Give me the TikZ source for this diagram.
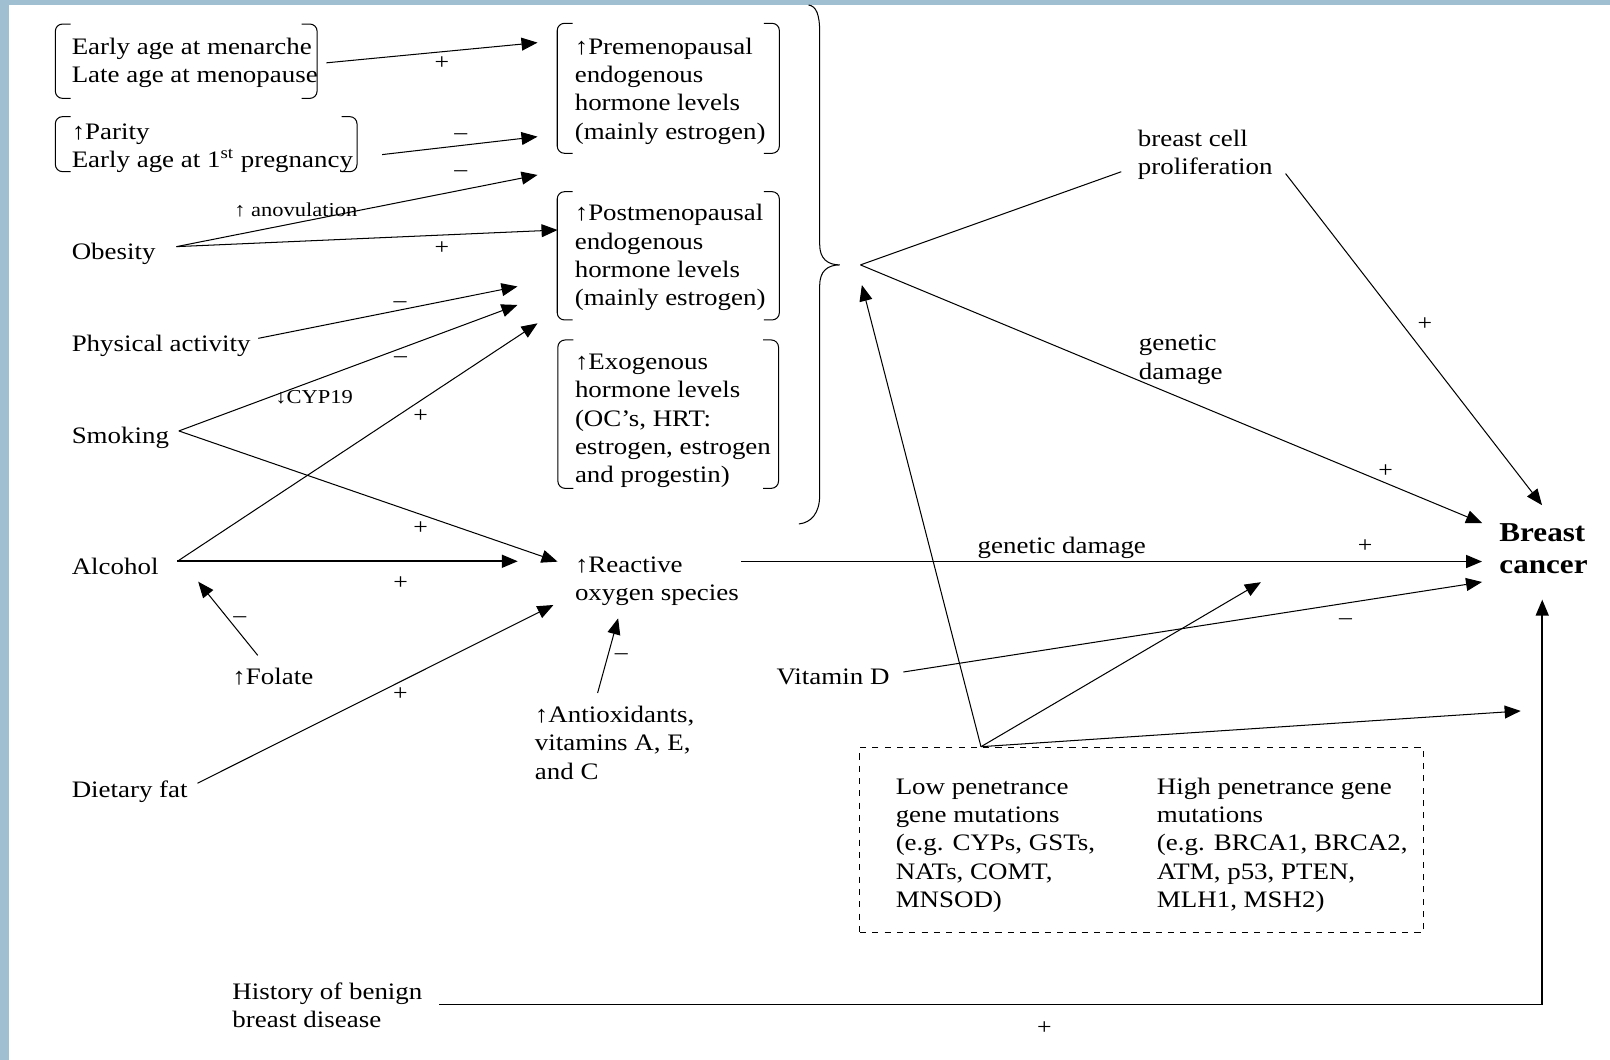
\documentclass[tikz,border=0pt]{standalone}
\usepackage{fontspec}
\setmainfont{Liberation Serif}[FakeStretch=1.14]
\usetikzlibrary{arrows.meta}
\definecolor{frameblue}{RGB}{160,191,209}

\tikzset{
	txt/.style={anchor=base west, inner sep=0pt, align=left, font=\fontsize{11.5}{13.8}\selectfont},
	note/.style={anchor=base west, inner sep=0pt, font=\fontsize{9.6}{11}\selectfont},
	sgn/.style={inner sep=0pt, font=\fontsize{11}{12}\selectfont},
	arr/.style={-{Triangle[length=7.8pt,width=6.3pt]}, line width=0.5pt},
	heavy/.style={line width=0.9pt},
}

% bracket pair round a group: x1 y1 x2 y2
\newcommand{\bpair}[4]{%
	\draw[line width=0.5pt, rounded corners=3.5pt] (#1+15,#2) -- (#1,#2) -- (#1,#4) -- (#1+15,#4);
	\draw[line width=0.5pt, rounded corners=3.5pt] (#3-15,#2) -- (#3,#2) -- (#3,#4) -- (#3-15,#4);
}

\begin{document}
\begin{tikzpicture}[x=0.5pt, y=-0.5pt]
	\useasboundingbox (0,0) rectangle (1568,1032);
	\fill[white] (0,0) rectangle (1568,1032);
	\fill[frameblue] (0,0) rectangle (8.8,1032);
	\fill[frameblue] (0,0) rectangle (1568,4.9);

	% multi-line nodes sit on the baseline of their last line
	\node[txt] (menarche) at (69.5,80.5) {Early age at menarche\\Late age at menopause};
	\node[txt] (parity) at (69.5,163.5) {↑Parity\\Early age at 1\textsuperscript{st} pregnancy};
	\node[txt] (obesity) at (69.5,252.3) {Obesity};
	\node[txt] (activity) at (69.5,342.2) {Physical activity};
	\node[txt] (smoking) at (69.5,431.8) {Smoking};
	\node[txt] (alcohol) at (69.5,559.1) {Alcohol};
	\node[txt] (folate) at (226,666.2) {↑Folate};
	\node[txt] (fat) at (69.5,776.6) {Dietary fat};
	\node[txt] (benign) at (226,1000.6) {History of benign\\breast disease};

	\node[txt] (premeno) at (559.4,135.4) {↑Premenopausal\\endogenous\\hormone levels\\(mainly estrogen)};
	\node[txt] (postmeno) at (559.4,297.8) {↑Postmenopausal\\endogenous\\hormone levels\\(mainly estrogen)};
	\node[txt] (exo) at (559.6,470.3) {↑Exogenous\\hormone levels\\(OC’s, HRT:\\estrogen, estrogen\\and progestin)};
	\node[txt] (ros) at (559.6,585) {↑Reactive\\oxygen species};
	\node[txt] (antiox) at (520.6,758.7) {↑Antioxidants,\\vitamins A, E,\\and C};
	\node[txt] (vitd) at (756,666.7) {Vitamin D};
	\node[txt] (prolif) at (1107.8,169.8) {breast cell\\proliferation};
	\node[txt] (damage) at (1108.8,369.2) {genetic\\damage};
	\node[txt, font=\bfseries\fontsize{13.3}{15.5}\selectfont] (cancer) at (1459.9,558.6) {Breast\\cancer};

	\node[draw, dashed, line width=0.5pt, inner sep=0pt, anchor=north west,
		minimum width=274.3pt, minimum height=90.4pt] (genes) at (837,727.2) {};
	\node[txt] (low) at (872,883.7) {Low penetrance\\gene mutations\\(e.g. CYPs, GSTs,\\NATs, COMT,\\MNSOD)};
	\node[txt] (high) at (1126.4,883.7) {High penetrance gene\\mutations\\(e.g. BRCA1, BRCA2,\\ATM, p53, PTEN,\\MLH1, MSH2)};

	\bpair{53.9}{23.4}{308.8}{95.8}
	\bpair{53.9}{113.6}{347.7}{167.2}
	\bpair{542.7}{22.7}{759}{149.3}
	\bpair{542.7}{186.7}{759}{311.6}
	\bpair{543.3}{331.1}{758.2}{475.6}

	\draw[line width=0.5pt] (787.5,4.9) .. controls (795,6) and (798.3,14) .. (798.3,32)
		-- (798.3,238) .. controls (798.3,252) and (806,258) .. (818,258)
		.. controls (806,258) and (798.3,264) .. (798.3,278)
		-- (798.3,482) .. controls (798.3,500) and (790,509) .. (778,510.3);

	\coordinate (obe-out) at ([xshift=10pt,yshift=3.3pt]obesity.east);
	\coordinate (smk-out) at ([xshift=4.6pt,yshift=3.3pt]smoking.east);
	\coordinate (alc-out) at ([xshift=9pt,yshift=2.3pt]alcohol.east);
	\coordinate (ros-out) at ([xshift=1pt,yshift=9.6pt]ros.east);
	\coordinate (apex) at ([xshift=59.2pt]genes.north west);
	\coordinate (hub) at (838,258);

	\coordinate (pre-a) at (523.5,41.5);
	\coordinate (pre-b) at (523.5,133.1);
	\coordinate (pre-c) at (523.5,170.4);
	\coordinate (post-a) at (543,224);
	\coordinate (post-b) at (504,279);
	\coordinate (post-c) at (504,297);
	\coordinate (post-d) at (523.5,314.9);
	\coordinate (ros-a) at (543,547);
	\coordinate (ros-b) at (504.3,547);
	\coordinate (ros-c) at (539,589.2);
	\coordinate (ros-d) at (602,602.2);
	\coordinate (alc-in) at (193,566.5);
	\coordinate (hub-in) at (839.4,277.6);
	\coordinate (bc-a) at (1501.8,492);
	\coordinate (bc-b) at (1443.4,509.4);
	\coordinate (bc-c) at (1443.4,547);
	\coordinate (bc-d) at (1443.4,566.8);
	\coordinate (bc-e) at (1502,584);
	\coordinate (mid-in) at (1228,567);
	\coordinate (right-in) at (1481,692.4);

	\draw[arr] ([xshift=4pt]menarche.east) -- (pre-a);
	\draw[arr] ([xshift=14pt,yshift=-3pt]parity.east) -- (pre-b);
	\draw[arr] (obe-out) -- (pre-c);
	\draw[arr] (obe-out) -- (post-a);
	\draw[arr] ([xshift=3.6pt,yshift=3.6pt]activity.east) -- (post-b);
	\draw[arr] (smk-out) -- (post-c);
	\draw[arr] (alc-out) -- (post-d);
	\draw[arr] (smk-out) -- (ros-a);
	\draw[arr, heavy] (alc-out) -- (alc-out -| ros-b);
	\draw[arr] ([xshift=12.5pt,yshift=5.8pt]folate.north west) -- (alc-in);
	\draw[arr] ([xshift=4.6pt,yshift=4.1pt]fat.east) -- (ros-c);
	\draw[arr] ([xshift=30.7pt,yshift=6.1pt]antiox.north west) -- (ros-d);
	\draw[arr, heavy] (ros-out) -- (ros-out -| bc-c);

	\draw[line width=0.5pt] (hub) -- ([xshift=-7.9pt,yshift=-8.4pt]prolif.west);
	\draw[arr] ([xshift=6.2pt,yshift=-9.3pt]prolif.east) -- (bc-a);
	\draw[arr] (hub) -- (bc-b);
	\draw[arr] ([xshift=6.6pt,yshift=2.4pt]vitd.east) -- (bc-d);
	\draw[arr] (apex) -- (hub-in);
	\draw[arr] (apex) -- (mid-in);
	\draw[arr] (apex) -- (right-in);
	\draw[arr, heavy] ([xshift=8pt,yshift=0.3pt]benign.east) -| (bc-e);

	\node[note] (anov) at (227.8,211) {↑ anovulation};
	\node[note] (cyp) at (267.8,392.8) {↓CYP19};
	\node[txt] (gendam) at (951.8,539.5) {genetic damage};

	\node[sgn] (s1) at (430.3,61.7) {+};
	\node[sgn] (s2) at (448.7,133.1) {–};
	\node[sgn] (s3) at (448.7,168.8) {–};
	\node[sgn] (s4) at (430.3,241.8) {+};
	\node[sgn] (s5) at (389.6,297) {–};
	\node[sgn] (s6) at (390,350.6) {–};
	\node[sgn] (s7) at (409.7,405.2) {+};
	\node[sgn] (s8) at (409.7,514.5) {+};
	\node[sgn] (s9) at (390.2,568.1) {+};
	\node[sgn] (s10) at (233.5,603.2) {–};
	\node[sgn] (s11) at (390,675.9) {+};
	\node[sgn] (s12) at (605,639.5) {–};
	\node[sgn] (s13) at (1329.5,531.7) {+};
	\node[sgn] (s14) at (1387.7,315.7) {+};
	\node[sgn] (s15) at (1349.4,459) {+};
	\node[sgn] (s16) at (1310.5,605) {–};
	\node[sgn] (s17) at (1017.2,1001.5) {+};
\end{tikzpicture}
\end{document}
